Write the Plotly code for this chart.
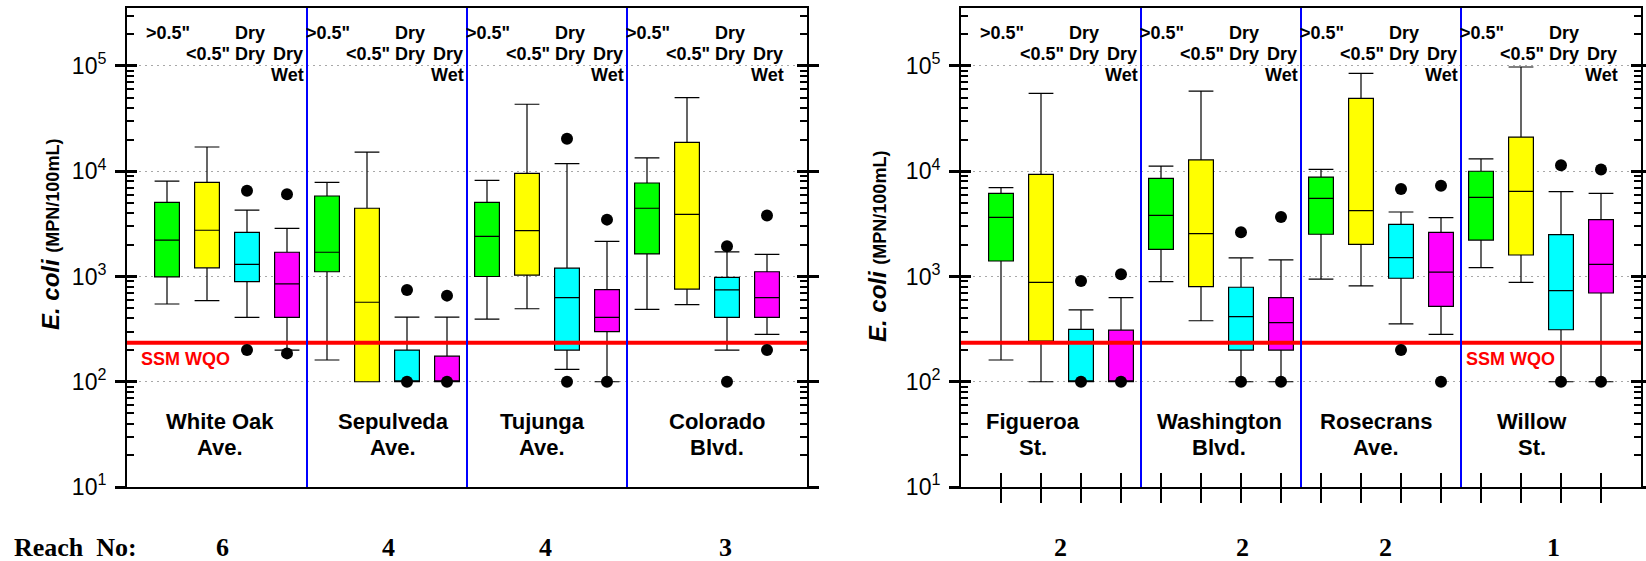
import plotly.graph_objects as go

W, H = 1646, 561

# ---------------- data ----------------
series_colors = ['#00FF00', '#FFFF00', '#00FFFF', '#FF00FF']
series_label_lines = [['>0.5"'], ['<0.5"'], ['Dry', 'Dry'], ['Dry', 'Wet']]
series_label_row = [0, 1, 0, 1]

left_sites = [['White Oak', 'Ave.'], ['Sepulveda', 'Ave.'], ['Tujunga', 'Ave.'], ['Colorado', 'Blvd.']]
right_sites = [['Figueroa', 'St.'], ['Washington', 'Blvd.'], ['Rosecrans', 'Ave.'], ['Willow', 'St.']]
left_reach = ['6', '4', '4', '3']
right_reach = ['2', '2', '2', '1']

WQO = 235

# per series (green, yellow, cyan, magenta), per site
left_lower = [[548, 161, 394, 488], [590, 100, 494, 540], [409, 100, 131, 200], [200, 100, 100, 282]]
left_q1 = [[990, 1110, 1000, 1640], [1210, 100, 1030, 760], [893, 100, 200, 409], [409, 100, 299, 409]]
left_med = [[2220, 1700, 2410, 4450], [2750, 569, 2730, 3900], [1306, 100, 631, 745], [852, 100, 409, 631]]
left_q3 = [[5070, 5820, 5070, 7730], [7850, 4450, 9550, 18800], [2630, 200, 1200, 980], [1700, 175, 750, 1110]]
left_upper = [[8070, 7850, 8200, 13400], [17000, 15200, 43300, 50000], [4280, 412, 11800, 1710], [2870, 412, 2160, 1620]]
left_outliers = [[[], [], [], []], [[], [], [], []],
                 [[6530, 200], [745, 100], [20400, 100], [1940, 100]],
                 [[6040, 186], [658, 100], [3470, 100], [3800, 200]]]

right_lower = [[161, 894, 946, 1213], [100, 380, 813, 881], [100, 100, 354, 100], [100, 100, 282, 100]]
right_q1 = [[1404, 1810, 2520, 2220], [244, 800, 2020, 1600], [100, 200, 962, 312], [100, 200, 521, 697]]
right_med = [[3650, 3800, 5530, 5650], [881, 2550, 4220, 6450], [100, 415, 1510, 733], [100, 365, 1100, 1306]]
right_q3 = [[6170, 8570, 8810, 10000], [9350, 12800, 49300, 21100], [315, 790, 3130, 2500], [309, 631, 2630, 3470]]
right_upper = [[6990, 11200, 10400, 13100], [55000, 57800, 85000, 97800], [481, 1500, 4100, 6400], [631, 1436, 3620, 6170]]
right_outliers = [[[], [], [], []], [[], [], [], []],
                  [[906, 100], [2630, 100], [6770, 200], [11400, 100]],
                  [[1049, 100], [3670, 100], [7290, 100], [10400, 100]]]

ytick_vals = [10, 100, 1000, 10000, 100000]
ytick_text = ['10<sup>1</sup>', '10<sup>2</sup>', '10<sup>3</sup>', '10<sup>4</sup>', '10<sup>5</sup>']

# ---------------- layout constants ----------------
NG, NS = 4, 4
XR = [-1, NG * NS]
YR = [1, 5.551]
left_site_x = [1.33, 5.65, 9.38, 13.76]
right_site_x = [0.8, 5.45, 9.38, 13.28]
left_reach_x = [1.38, 5.53, 9.45, 13.95]
right_reach_x = [1.48, 6.03, 9.6, 13.8]
left_wqo_x = 0.45
right_wqo_x = 12.73
label_dx = [0.02, 0.02, 0.07, 0.02]

SANS = 'Liberation Sans, Arial, sans-serif'
SERIF = 'Liberation Serif, Times New Roman, serif'


def py(px):
    return 1 - px / H


minor_vals = [m * 10 ** e for e in range(1, 6) for m in range(2, 10)]

fig = go.Figure()
annotations = []
shapes = []

panels = [
    ('x', 'y', left_lower, left_q1, left_med, left_q3, left_upper, left_outliers,
     left_sites, left_site_x, left_reach, left_reach_x, left_wqo_x),
    ('x2', 'y2', right_lower, right_q1, right_med, right_q3, right_upper, right_outliers,
     right_sites, right_site_x, right_reach, right_reach_x, right_wqo_x),
]

for (xa, ya, lo, q1, med, q3, up, outl, sites, site_x, reach, reach_x, wqo_x) in panels:
    for s in range(NS):
        xs = [NS * g + s for g in range(NG)]
        fig.add_trace(go.Box(
            x=xs, q1=q1[s], median=med[s], q3=q3[s],
            lowerfence=lo[s], upperfence=up[s],
            fillcolor=series_colors[s],
            line=dict(color='black', width=1.2),
            whiskerwidth=1, width=0.62, boxpoints=False,
            xaxis=xa, yaxis=ya, showlegend=False, hoverinfo='skip'))
    # WQO line
    fig.add_trace(go.Scatter(x=XR, y=[WQO, WQO], mode='lines',
                             line=dict(color='#FF0000', width=4),
                             xaxis=xa, yaxis=ya, showlegend=False, hoverinfo='skip'))
    # outliers
    ox, oy = [], []
    for s in range(NS):
        for g in range(NG):
            for v in outl[s][g]:
                ox.append(NS * g + s)
                oy.append(v)
    fig.add_trace(go.Scatter(x=ox, y=oy, mode='markers',
                             marker=dict(color='black', size=12),
                             xaxis=xa, yaxis=ya, showlegend=False, hoverinfo='skip'))
    # group dividers
    for g in range(1, NG):
        shapes.append(dict(type='line', xref=xa, yref=ya + ' domain',
                           x0=NS * g - 0.5, x1=NS * g - 0.5, y0=0, y1=1,
                           line=dict(color='#0000FF', width=2)))
    # series labels at top
    row_y = [33, 54, 75]
    for g in range(NG):
        for s in range(NS):
            for k, txt in enumerate(series_label_lines[s]):
                annotations.append(dict(
                    xref=xa, yref='paper', x=NS * g + s + label_dx[s],
                    y=py(row_y[series_label_row[s] + k]),
                    text='<b>' + txt + '</b>', showarrow=False,
                    xanchor='center', yanchor='middle',
                    font=dict(family=SANS, size=18, color='black')))
    # site labels
    for g in range(NG):
        for k, txt in enumerate(sites[g]):
            annotations.append(dict(
                xref=xa, yref='paper', x=site_x[g], y=py([421, 447][k]),
                text='<b>' + txt + '</b>', showarrow=False,
                xanchor='center', yanchor='middle',
                font=dict(family=SANS, size=22, color='black')))
    # reach numbers
    for g in range(NG):
        annotations.append(dict(
            xref=xa, yref='paper', x=reach_x[g], y=py(547),
            text='<b>' + reach[g] + '</b>', showarrow=False,
            xanchor='center', yanchor='middle',
            font=dict(family=SERIF, size=26, color='black')))
    # WQO label
    annotations.append(dict(
        xref=xa, yref='paper', x=wqo_x, y=py(359),
        text='<b>SSM WQO</b>', showarrow=False,
        xanchor='center', yanchor='middle',
        font=dict(family=SANS, size=18, color='#FF0000')))

# invisible anchors so the overlay axes (inside ticks) get drawn
for xa, ya in [('x', 'y3'), ('x2', 'y4'), ('x4', 'y2')]:
    fig.add_trace(go.Scatter(x=[0], y=[1000], mode='markers', marker=dict(size=1, opacity=0),
                             xaxis=xa, yaxis=ya, showlegend=False, hoverinfo='skip'))

# y titles
for xp, yp in [(50, 235), (877, 247)]:
    annotations.append(dict(
        xref='paper', yref='paper', x=xp / W, y=py(yp), textangle=-90,
        text="<b><i>E. coli</i></b> <b><span style='font-size:18px'>(MPN/100mL)</span></b>",
        showarrow=False, xanchor='center', yanchor='middle',
        font=dict(family=SANS, size=24, color='black')))

annotations.append(dict(
    xref='paper', yref='paper', x=12 / W, y=py(547), text='<b>Reach  No:</b>',
    showarrow=False, xanchor='left', yanchor='middle',
    font=dict(family=SERIF, size=26, color='black')))

ydom = [py(487), py(8)]
xdom_l = [127 / W, 807 / W]
xdom_r = [961 / W, 1641 / W]

main_y = dict(type='log', range=YR, domain=ydom, tickmode='array', tickvals=ytick_vals,
              ticktext=ytick_text, ticks='outside', ticklen=10, tickwidth=3, tickcolor='black',
              mirror='ticks', showline=True, linewidth=2, linecolor='black',
              showgrid=True, gridcolor='#A8A8A8', griddash='2px,4px', gridwidth=1,
              zeroline=False, tickfont=dict(family=SANS, size=23, color='black'),
              ticklabelstandoff=4, automargin=False,
              minor=dict(ticks='inside', ticklen=7, tickwidth=1.5, tickcolor='black',
                         tickmode='array', tickvals=minor_vals, showgrid=False))
over_y = dict(type='log', range=YR, tickmode='array', tickvals=ytick_vals,
              ticks='inside', ticklen=10, tickwidth=3, tickcolor='black', mirror='ticks',
              showline=False, showgrid=False, showticklabels=False, zeroline=False,
              automargin=False)

fig.update_layout(
    width=W, height=H, autosize=False,
    margin=dict(l=0, r=0, t=0, b=0, pad=0, autoexpand=False),
    paper_bgcolor='white', plot_bgcolor='white',
    boxmode='overlay', showlegend=False,
    xaxis=dict(domain=xdom_l, range=XR, anchor='y', showline=True, linewidth=2,
               linecolor='black', mirror=True, ticks='', showticklabels=False,
               showgrid=False, zeroline=False, automargin=False),
    xaxis2=dict(domain=xdom_r, range=XR, anchor='y2', showline=True, linewidth=2,
                linecolor='black', mirror=True, ticks='outside', ticklen=14, tickwidth=2,
                tickcolor='black', tickmode='array', tickvals=list(range(NG * NS)),
                showticklabels=False, showgrid=False, zeroline=False, automargin=False),
    xaxis4=dict(overlaying='x2', range=XR, anchor='y2', showline=False,
                ticks='inside', ticklen=14, tickwidth=2, tickcolor='black',
                tickmode='array', tickvals=list(range(NG * NS)),
                showticklabels=False, showgrid=False, zeroline=False, automargin=False),
    yaxis=dict(anchor='x', **main_y),
    yaxis2=dict(anchor='x2', **main_y),
    yaxis3=dict(overlaying='y', anchor='x', **over_y),
    yaxis4=dict(overlaying='y2', anchor='x2', **over_y),
    annotations=annotations,
    shapes=shapes,
)

fig.write_html("out.html", config={'displayModeBar': False},
               post_script="document.body.style.margin='0';document.documentElement.style.overflow='hidden';")
